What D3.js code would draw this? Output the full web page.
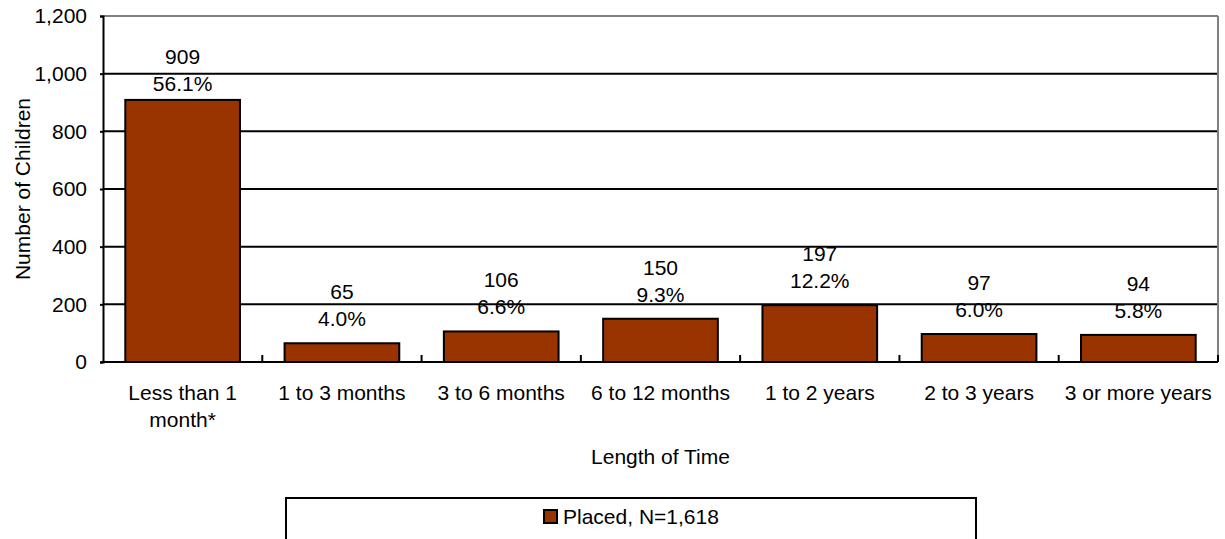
<!DOCTYPE html>
<html>
<head>
<meta charset="utf-8">
<script src="https://cdn.jsdelivr.net/npm/d3@7"></script>
<style>
  html, body { margin: 0; padding: 0; background: #fff; }
  svg { display: block; font-family: "Liberation Sans", Arial, sans-serif; }
</style>
</head>
<body>
<svg id="chart" width="1225" height="539"></svg>
<script>
const categories = ["Less than 1 month*", "1 to 3 months", "3 to 6 months", "6 to 12 months", "1 to 2 years", "2 to 3 years", "3 or more years"];
const counts = [909, 65, 106, 150, 197, 97, 94];
const percents = ["56.1%", "4.0%", "6.6%", "9.3%", "12.2%", "6.0%", "5.8%"];
const yTicks = [0, 200, 400, 600, 800, 1000, 1200];
const seriesName = "Placed, N=1,618";
const yTitle = "Number of Children";
const xTitle = "Length of Time";

const svg = d3.select("#chart");
const fontSize = 21;
const pLeft = 103, pRight = 1218, pTop = 16, pBottom = 362;
const barColor = "#993300";

const x = d3.scaleBand().domain(categories).range([pLeft, pRight]).paddingInner(0.28).paddingOuter(0.14);
const y = d3.scaleLinear().domain([0, 1200]).range([pBottom, pTop]);

// gridlines
svg.append("g").selectAll("line").data(yTicks.filter(t => t > 0 && t < 1200)).join("line")
  .attr("x1", pLeft).attr("x2", pRight)
  .attr("y1", d => y(d)).attr("y2", d => y(d))
  .attr("stroke", "#000").attr("stroke-width", 2);

// top and right border (gray)
svg.append("line").attr("x1", pLeft).attr("x2", pRight).attr("y1", y(1200)).attr("y2", y(1200))
  .attr("stroke", "#808080").attr("stroke-width", 2);
svg.append("line").attr("x1", pRight).attr("x2", pRight).attr("y1", y(1200)).attr("y2", pBottom)
  .attr("stroke", "#808080").attr("stroke-width", 2);

// bars
svg.append("g").selectAll("rect").data(categories).join("rect")
  .attr("x", d => x(d))
  .attr("y", (d, i) => y(counts[i]))
  .attr("width", x.bandwidth())
  .attr("height", (d, i) => pBottom - y(counts[i]))
  .attr("fill", barColor).attr("stroke", "#000").attr("stroke-width", 2);

// y axis
const yAxis = d3.axisLeft(y).tickValues(yTicks).tickSize(3).tickPadding(13)
  .tickFormat(d3.format(","));
const yg = svg.append("g").attr("transform", `translate(${pLeft},0)`).call(yAxis);
yg.attr("font-size", fontSize).attr("font-family", "Liberation Sans, Arial, sans-serif");
yg.select(".domain").attr("stroke", "#000").attr("stroke-width", 2);
yg.selectAll(".tick line").attr("stroke", "#000").attr("stroke-width", 2);
yg.selectAll(".tick text").attr("fill", "#000");

// x axis baseline + inward ticks at category boundaries
const boundaries = d3.range(1, categories.length + 1).map(i => pLeft + i * (pRight - pLeft) / categories.length);
svg.append("line").attr("x1", pLeft - 2).attr("x2", pRight).attr("y1", pBottom).attr("y2", pBottom)
  .attr("stroke", "#000").attr("stroke-width", 2);
svg.append("g").selectAll("line").data(boundaries).join("line")
  .attr("x1", d => d).attr("x2", d => d).attr("y1", pBottom).attr("y2", pBottom - 7)
  .attr("stroke", "#000").attr("stroke-width", 2);

// x category labels (wrapped)
const lineH = 27;
const xl = svg.append("g").selectAll("text").data(categories).join("text")
  .attr("x", d => x(d) + x.bandwidth() / 2)
  .attr("y", 400)
  .attr("text-anchor", "middle").attr("font-size", fontSize).attr("fill", "#000");
xl.each(function(d) {
  const t = d3.select(this);
  const words = d.split(" ");
  let lines = [], cur = [];
  const probe = svg.append("text").attr("font-size", fontSize);
  words.forEach(w => {
    const test = cur.concat([w]).join(" ");
    probe.text(test);
    if (probe.node().getComputedTextLength() > x.step() - 4 && cur.length) {
      lines.push(cur.join(" ")); cur = [w];
    } else cur.push(w);
  });
  lines.push(cur.join(" "));
  probe.remove();
  lines.forEach((ln, k) => {
    t.append("tspan").attr("x", x(d) + x.bandwidth() / 2).attr("dy", k === 0 ? 0 : lineH).text(ln);
  });
});

// value labels
const lab = svg.append("g").selectAll("text").data(categories).join("text")
  .attr("text-anchor", "middle").attr("font-size", fontSize).attr("fill", "#000");
lab.each(function(d, i) {
  const t = d3.select(this);
  const by = y(counts[i]);
  const gap = by < y(800) ? 9 : 17;
  const base = by - gap;
  const cx = x(d) + x.bandwidth() / 2;
  t.append("tspan").attr("x", cx).attr("y", base - lineH).text(d3.format(",")(counts[i]));
  t.append("tspan").attr("x", cx).attr("y", base).text(percents[i]);
});

// axis titles
svg.append("text").attr("transform", `translate(30,${(pTop + pBottom) / 2}) rotate(-90)`)
  .attr("text-anchor", "middle").attr("font-size", fontSize).attr("fill", "#000").text(yTitle);
svg.append("text").attr("x", (pLeft + pRight) / 2).attr("y", 464)
  .attr("text-anchor", "middle").attr("font-size", fontSize).attr("fill", "#000").text(xTitle);

// legend
svg.append("rect").attr("x", 286).attr("y", 498).attr("width", 690).attr("height", 60)
  .attr("fill", "#fff").attr("stroke", "#000").attr("stroke-width", 2);
const lg = svg.append("g");
lg.append("text").attr("x", 563).attr("y", 524).attr("font-size", fontSize).attr("fill", "#000").text(seriesName);
lg.append("rect").attr("x", 544).attr("y", 510).attr("width", 13).attr("height", 13)
  .attr("fill", barColor).attr("stroke", "#000").attr("stroke-width", 2);
</script>
</body>
</html>
